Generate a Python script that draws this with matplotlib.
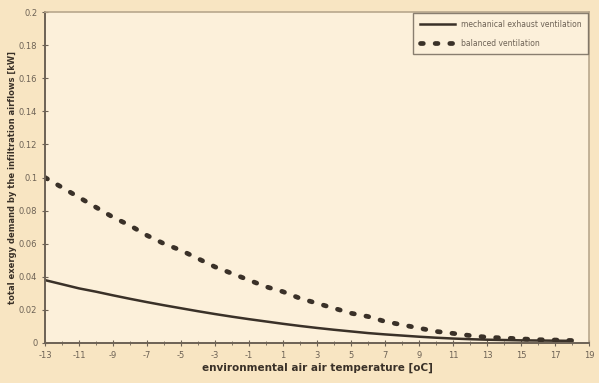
import numpy as np
import matplotlib.pyplot as plt
from matplotlib.ticker import MultipleLocator

# environmental air temperature [oC]
temps = list(range(-13, 19))

# total exergy demand by the infiltration airflows [kW]
mech_exhaust = [0.038, 0.0355, 0.033, 0.031, 0.0288, 0.0267, 0.0247, 0.0228,
                0.021, 0.0192, 0.0175, 0.0159, 0.0144, 0.013, 0.0116, 0.0103,
                0.0091, 0.008, 0.007, 0.006, 0.0052, 0.0045, 0.0038, 0.0032,
                0.0027, 0.0023, 0.002, 0.0018, 0.0016, 0.0015, 0.0014, 0.0013]
balanced = [0.100, 0.094, 0.088, 0.082, 0.076, 0.071, 0.065, 0.060,
            0.056, 0.051, 0.046, 0.042, 0.038, 0.034, 0.031, 0.027,
            0.024, 0.021, 0.018, 0.016, 0.013, 0.011, 0.009, 0.007,
            0.0058, 0.0045, 0.0035, 0.003, 0.0025, 0.002, 0.0018, 0.0015]

xticks = list(range(-13, 20, 2))
yticks = [0, 0.02, 0.04, 0.06, 0.08, 0.1, 0.12, 0.14, 0.16, 0.18, 0.2]
ytick_labels = ["0", "0.02", "0.04", "0.06", "0.08", "0.1", "0.12", "0.14", "0.16", "0.18", "0.2"]

outer_bg = "#f8e5c2"
inner_bg = "#fcf0da"
ink = "#3a3128"

fig = plt.figure(figsize=(5.99, 3.83), dpi=100, facecolor=outer_bg)
ax = fig.add_axes([45 / 599, 1 - 343 / 383, 544 / 599, 331 / 383])
ax.set_facecolor(inner_bg)

ax.plot(temps, mech_exhaust, color=ink, lw=1.8, label="mechanical exhaust ventilation")
ax.plot(temps, balanced, color=ink, lw=3.4, linestyle=(0, (0.6, 2.5)),
        dash_capstyle="round", label="balanced ventilation")

ax.set_xlim(-13, 19)
ax.set_ylim(0, 0.2)
ax.set_xticks(xticks)
ax.set_xticklabels([str(t) for t in xticks])
ax.xaxis.set_minor_locator(MultipleLocator(1))
ax.set_yticks(yticks)
ax.set_yticklabels(ytick_labels)

ax.tick_params(axis="both", which="both", direction="inout", colors="#6d6255",
               labelcolor="#6d6255", labelsize=6)
ax.tick_params(axis="both", which="major", length=4)
ax.tick_params(axis="x", which="minor", length=3)

for side in ["left", "bottom"]:
    ax.spines[side].set_color("#6d6255")
    ax.spines[side].set_linewidth(1.4)
for side in ["top", "right"]:
    ax.spines[side].set_color("#b8a78c")
    ax.spines[side].set_linewidth(1.2)

ax.set_xlabel("environmental air air temperature [oC]", fontsize=7.5,
              fontweight="bold", color=ink, labelpad=2)
ax.set_ylabel("total exergy demand by the infiltration airflows [kW]", fontsize=6,
              fontweight="bold", color=ink, labelpad=1)

leg = ax.legend(loc="upper right", bbox_to_anchor=(1.0, 1.0), fontsize=5.5,
                frameon=True, fancybox=False, handlelength=4.5, borderpad=0.9,
                labelspacing=1.3, borderaxespad=0.1)
leg.get_frame().set_edgecolor("#6d6255")
leg.get_frame().set_facecolor(inner_bg)
leg.get_frame().set_linewidth(1.0)
for t in leg.get_texts():
    t.set_color("#6d6255")

fig.savefig("out.png", dpi=100, facecolor=outer_bg)
